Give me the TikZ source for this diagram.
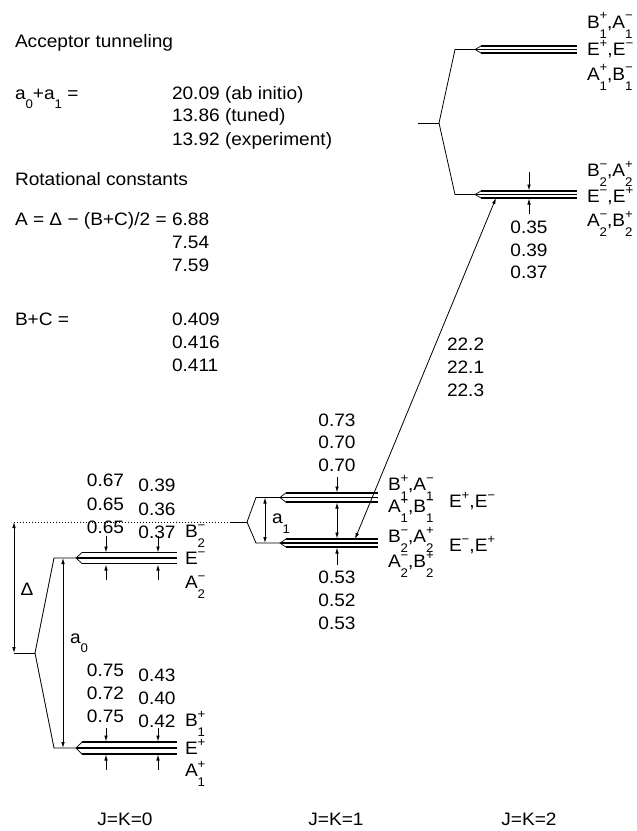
\documentclass[tikz,border=0pt]{standalone}
\usepackage{fontspec}
\setmainfont[FakeStretch=1.06]{Liberation Sans}
\usepackage{graphicx}
\usetikzlibrary{arrows.meta}
\newcommand\nf{\fontsize{18bp}{21bp}\selectfont}
\newcommand\smallf{\fontsize{12.5bp}{12.5bp}\selectfont}
\newcommand\subx[1]{\raisebox{-0.55em}{\smallf #1}}
\newcommand\lab[3]{#1\rlap{\raisebox{0.45em}{\smallf #3}}\raisebox{-0.56em}{\smallf #2}}
\newcommand\labe[2]{#1\raisebox{0.45em}{\smallf #2}}
\newcommand\levgroup[5]{%
  \coordinate (#1) at (#2,#4);
  \draw[chev] (#2+6,#4-#5) -- (#1) -- (#2+6,#4+#5);
  \draw[lvl] (#2+6,#4-#5) -- (#3,#4-#5);
  \draw[lvl] (#2+1,#4) -- (#3,#4);
  \draw[lvl] (#2+6,#4+#5) -- (#3,#4+#5);
}
\begin{document}
\begin{tikzpicture}[x=1bp,y=-1bp,
  every node/.style={inner sep=0pt, outer sep=0pt, font=\nf},
  conn/.style={line width=0.8bp},
  lvl/.style={line width=1.7bp},
  chev/.style={line width=0.7bp},
  dots/.style={line width=0.8bp, dash pattern=on 0.8bp off 2.2bp},
  arr/.style={line width=0.8bp, -{Latex[length=6bp,width=3.6bp]}},
  darr/.style={line width=0.8bp, {Latex[length=6bp,width=3.6bp]}-{Latex[length=6bp,width=3.6bp]}},
  num/.style={anchor=base},
  lft/.style={anchor=base west}]
\useasboundingbox (0,0) rectangle (637,831);

% ---------- text block top-left
\node[lft] (t1) at (15,47) {Acceptor tunneling};
\node[lft] (t2) at (15,99) {a\subx{0}+a\subx{1} =};
\node[lft] (t3) at (172,99) {20.09 (ab initio)};
\node[lft] (t4) at (172,121.5) {13.86 (tuned)};
\node[lft] (t5) at (172,145) {13.92 (experiment)};
\node[lft] (t6) at (15,185) {Rotational constants};
\node[lft] (t7) at (15,225) {A = Δ − (B+C)/2 =};
\node[lft] (t8) at (172,225) {6.88};
\node[lft] (t9) at (172,248) {7.54};
\node[lft] (t10) at (172,271.5) {7.59};
\node[lft] (t11) at (15,325.5) {B+C =};
\node[lft] (t12) at (172,325.5) {0.409};
\node[lft] (t13) at (172,348.5) {0.416};
\node[lft] (t14) at (172,371.5) {0.411};

% ---------- level groups
\levgroup{g0u}{76}{177}{558}{5.5}
\levgroup{g0l}{76}{177}{748}{6}
\levgroup{g1u}{280}{378}{497.5}{4.75}
\levgroup{g1l}{280}{378}{543}{4}
\levgroup{g2u}{475}{577}{49.5}{3.5}
\levgroup{g2l}{475}{577}{194.5}{3.5}

% ---------- connectors J=K=0
\coordinate (c0) at (35,653);
\coordinate (d0) at (14,653);
\coordinate (d1) at (14,522);
\draw[conn] (g0u) -- (54,558) -- (c0) -- (54,748) -- (g0l);
\draw[conn] (c0) -- (d0);
\draw[darr] (d1) -- (d0);
\node[num] (delta) at (27,595.5) {Δ};
\coordinate (a0t) at (63,558);
\coordinate (a0b) at (63,748);
\draw[darr] (a0t) -- (a0b);
\node[lft] (a0) at (70,643) {a\subx{0}};

% ---------- connectors J=K=1
\coordinate (c1) at (247,522);
\coordinate (c1a) at (230,522);
\draw[dots] (d1) -- (c1a);
\draw[conn] (c1a) -- (c1);
\draw[conn] (c1) -- (256,497.5) -- (g1u);
\draw[conn] (c1) -- (256,543) -- (g1l);
\coordinate (a1t) at (265,497.5);
\coordinate (a1b) at (265,543);
\draw[darr] (a1t) -- (a1b);
\node[lft] (a1) at (272,523.5) {a\subx{1}};

% ---------- connectors J=K=2
\coordinate (c2a) at (418,123);
\coordinate (c2) at (439,123);
\draw[conn] (c2a) -- (c2);
\draw[conn] (c2) -- (455,49.5) -- (g2u);
\draw[conn] (c2) -- (455,194.5) -- (g2l);

% ---------- small arrows J=K=0
\foreach \x in {106,158}{
  \draw[arr] (\x,536) -- (\x,552.5);
  \draw[arr] (\x,580) -- (\x,564.5);
  \draw[arr] (\x,728) -- (\x,741.5);
  \draw[arr] (\x,770) -- (\x,754.5);
}
% ---------- small arrows J=K=1
\draw[arr] (337,477) -- (337,492.5);
\draw[darr] (337,502.5) -- (337,538.5);
\draw[arr] (337,565) -- (337,547.5);
% ---------- small arrows J=K=2
\draw[arr] (529,172) -- (529,190.5);
\draw[arr] (529,214) -- (529,198.5);

% ---------- long transition arrow
\coordinate (tr1) at (355,539);
\coordinate (tr2) at (496,198);
\draw[darr] (tr1) -- (tr2);
\node[lft] (v1) at (447,350.5) {22.2};
\node[lft] (v2) at (447,373.5) {22.1};
\node[lft] (v3) at (447,396.5) {22.3};

% ---------- numbers J=K=0
\node[num] (n1) at (105.5,486.5) {0.67};
\node[num] (n2) at (105.5,510) {0.65};
\node[num] (n3) at (105.5,533.5) {0.65};
\node[num] (n4) at (157,491.5) {0.39};
\node[num] (n5) at (157,515) {0.36};
\node[num] (n6) at (157,538.5) {0.37};
\node[num] (n7) at (105.5,676.5) {0.75};
\node[num] (n8) at (105.5,699.5) {0.72};
\node[num] (n9) at (105.5,722.5) {0.75};
\node[num] (n10) at (157,681.5) {0.43};
\node[num] (n11) at (157,704.5) {0.40};
\node[num] (n12) at (157,727.5) {0.42};
% ---------- numbers J=K=1
\node[num] (m1) at (337,426.5) {0.73};
\node[num] (m2) at (337,448.5) {0.70};
\node[num] (m3) at (337,471.5) {0.70};
\node[num] (m4) at (337,583.5) {0.53};
\node[num] (m5) at (337,606.5) {0.52};
\node[num] (m6) at (337,629.5) {0.53};
% ---------- numbers J=K=2
\node[num] (k1) at (529,233.5) {0.35};
\node[num] (k2) at (529,256) {0.39};
\node[num] (k3) at (529,278.5) {0.37};

% ---------- symmetry labels J=K=0
\node[lft] (s1) at (185,537.5) {\lab{B}{2}{−}};
\node[lft] (s2) at (185,564.5) {\labe{E}{−}};
\node[lft] (s3) at (185,588.5) {\lab{A}{2}{−}};
\node[lft] (s4) at (185,726.5) {\lab{B}{1}{+}};
\node[lft] (s5) at (185,754.5) {\labe{E}{+}};
\node[lft] (s6) at (185,776.5) {\lab{A}{1}{+}};
% ---------- symmetry labels J=K=1
\node[lft] (r1) at (388,490.5) {\lab{B}{1}{+},\lab{A}{1}{−}};
\node[lft] (r2) at (388,512.5) {\lab{A}{1}{+},\lab{B}{1}{−}};
\node[lft] (r3) at (449,507.5) {\labe{E}{+},\labe{E}{−}};
\node[lft] (r4) at (388,542.5) {\lab{B}{2}{−},\lab{A}{2}{+}};
\node[lft] (r5) at (388,567.5) {\lab{A}{2}{−},\lab{B}{2}{+}};
\node[lft] (r6) at (449,551.5) {\labe{E}{−},\labe{E}{+}};
% ---------- symmetry labels J=K=2
\node[lft] (q1) at (587,28) {\lab{B}{1}{+},\lab{A}{1}{−}};
\node[lft] (q2) at (587,55.5) {\labe{E}{+},\labe{E}{−}};
\node[lft] (q3) at (587,80) {\lab{A}{1}{+},\lab{B}{1}{−}};
\node[lft] (q4) at (587,176.5) {\lab{B}{2}{−},\lab{A}{2}{+}};
\node[lft] (q5) at (587,202.5) {\labe{E}{−},\labe{E}{+}};
\node[lft] (q6) at (587,226.5) {\lab{A}{2}{−},\lab{B}{2}{+}};

% ---------- column titles
\node[num] (j0) at (125,825) {J=K=0};
\node[num] (j1) at (336,825) {J=K=1};
\node[num] (j2) at (529,825) {J=K=2};
\end{tikzpicture}
\end{document}
